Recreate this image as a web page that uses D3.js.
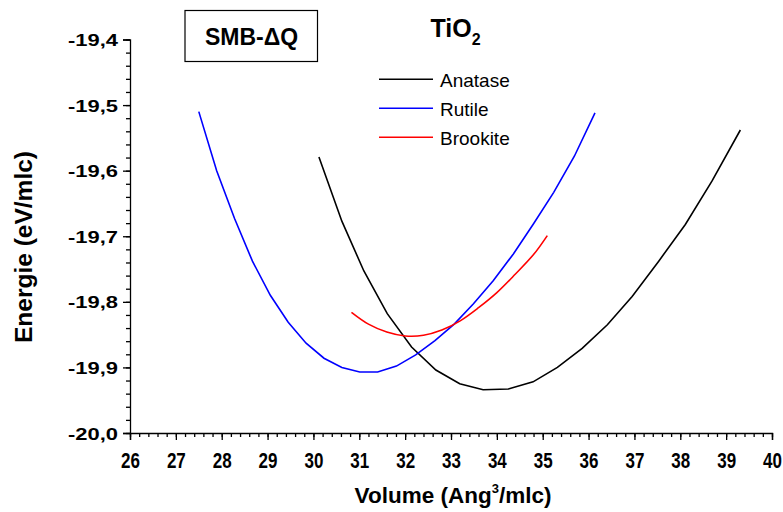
<!DOCTYPE html>
<html>
<head>
<meta charset="utf-8">
<script src="https://cdn.jsdelivr.net/npm/d3@7"></script>
<style>
  html, body { margin: 0; padding: 0; background: #fff; }
  svg { display: block; font-family: Arial, "Liberation Sans", sans-serif; }
</style>
</head>
<body>
<svg id="chart" width="783" height="512"></svg>
<script>
// Energy vs. volume curves for three TiO2 polymorphs (SMB-ΔQ model)
const anataseVolume = [30.12, 30.62, 31.10, 31.61, 32.14, 32.67, 33.19, 33.70, 34.25, 34.79, 35.32, 35.86, 36.41, 36.95, 37.53, 38.11, 38.69, 39.31];
const anataseEnergy = [-19.579, -19.677, -19.753, -19.818, -19.869, -19.904, -19.925, -19.934, -19.933, -19.922, -19.900, -19.871, -19.835, -19.792, -19.738, -19.682, -19.616, -19.538];

const rutileVolume = [27.50, 27.89, 28.28, 28.67, 29.06, 29.45, 29.84, 30.23, 30.62, 31.01, 31.40, 31.81, 32.23, 32.65, 33.07, 33.49, 33.92, 34.36, 34.80, 35.24, 35.69, 36.14];
const rutileEnergy = [-19.510, -19.600, -19.673, -19.738, -19.790, -19.831, -19.863, -19.886, -19.900, -19.907, -19.907, -19.898, -19.881, -19.859, -19.834, -19.803, -19.768, -19.727, -19.681, -19.633, -19.578, -19.512];

const brookiteVolume = [30.83, 31.2, 31.6, 32.0, 32.4, 32.8, 33.2, 33.6, 34.0, 34.4, 34.8, 35.1];
const brookiteEnergy = [-19.816, -19.834, -19.846, -19.852, -19.851, -19.843, -19.829, -19.809, -19.786, -19.758, -19.728, -19.699];

const seriesNames = ["Anatase", "Rutile", "Brookite"];
const seriesColors = ["#000000", "#0000ff", "#ff0000"];

const xTicks = d3.range(26, 40.001, 1);
const yTicks = [-20.0, -19.9, -19.8, -19.7, -19.6, -19.5, -19.4];

const svg = d3.select("#chart");

const x = d3.scaleLinear().domain([26, 40]).range([130, 772]);
const y = d3.scaleLinear().domain([-20.0, -19.4]).range([433, 39.5]);

const fmtY = v => d3.format(".1f")(v).replace(".", ",").replace("−", "-");

// Y axis: major ticks with labels (drawn wide), minor ticks every 0.02
svg.append("g").attr("transform", `translate(${x(26)},0)`)
  .call(d3.axisLeft(y).tickValues(yTicks).tickSize(7).tickPadding(0).tickFormat(fmtY))
  .call(g => g.selectAll(".tick text")
    .attr("x", 0).attr("dy", 0)
    .attr("transform", "translate(-12,6) scale(1.29,1)")
    .attr("font-size", 17));
svg.append("g").attr("transform", `translate(${x(26)},0)`)
  .call(d3.axisLeft(y).tickValues(d3.range(-20.0, -19.399, 0.02)).tickSize(4).tickFormat(""))
  .call(g => g.select(".domain").remove());

// X axis: major ticks with labels (drawn tall), minor ticks every 0.2
svg.append("g").attr("transform", `translate(0,${y(-20.0)})`)
  .call(d3.axisBottom(x).tickValues(xTicks).tickSize(7).tickPadding(0).tickFormat(d3.format("d")))
  .call(g => g.selectAll(".tick text")
    .attr("y", 0).attr("dy", 0)
    .attr("transform", "translate(0,35) scale(1,1.32)")
    .attr("font-size", 17));
svg.append("g").attr("transform", `translate(0,${y(-20.0)})`)
  .call(d3.axisBottom(x).tickValues(d3.range(26, 40.001, 0.2)).tickSize(4).tickFormat(""))
  .call(g => g.select(".domain").remove());

svg.selectAll(".domain, .tick line").attr("stroke", "#000").attr("stroke-width", 1.3);
svg.selectAll(".tick text")
  .attr("fill", "#000")
  .attr("font-family", "Arial, 'Liberation Sans', sans-serif")
  .attr("font-weight", "bold");

// Axis titles
svg.append("text")
  .attr("x", 453).attr("y", 503)
  .attr("text-anchor", "middle")
  .attr("font-weight", "bold").attr("font-size", 22.5)
  .html('Volume (Ang<tspan dy="-10" font-size="13">3</tspan><tspan dy="10">/mlc)</tspan>');

svg.append("text")
  .attr("transform", "translate(32,247) rotate(-90)")
  .attr("text-anchor", "middle")
  .attr("font-weight", "bold").attr("font-size", 24.5)
  .text("Energie (eV/mlc)");

// Curves
const line = d3.line().x(d => x(d[0])).y(d => y(d[1]));
const series = [
  { pts: d3.zip(anataseVolume, anataseEnergy), curve: d3.curveLinear },
  { pts: d3.zip(rutileVolume, rutileEnergy), curve: d3.curveLinear },
  { pts: d3.zip(brookiteVolume, brookiteEnergy), curve: d3.curveCatmullRom }
];
series.forEach((s, i) => {
  svg.append("path")
    .attr("d", line.curve(s.curve)(s.pts))
    .attr("fill", "none")
    .attr("stroke", seriesColors[i])
    .attr("stroke-width", 1.6);
});

// Model label box
svg.append("rect")
  .attr("x", 185).attr("y", 10.5).attr("width", 132.5).attr("height", 51)
  .attr("fill", "#fff").attr("stroke", "#000").attr("stroke-width", 1.2);
svg.append("text")
  .attr("x", 251.5).attr("y", 45)
  .attr("text-anchor", "middle")
  .attr("font-weight", "bold").attr("font-size", 23)
  .text("SMB-ΔQ");

// Compound title
svg.append("text")
  .attr("x", 430.5).attr("y", 36.7)
  .attr("font-weight", "bold").attr("font-size", 25)
  .html('TiO<tspan dy="8.3" font-size="16">2</tspan>');

// Legend
const legend = svg.append("g");
seriesNames.forEach((name, i) => {
  const ly = 79.3 + i * 29;
  legend.append("line")
    .attr("x1", 379).attr("x2", 433).attr("y1", ly).attr("y2", ly)
    .attr("stroke", seriesColors[i]).attr("stroke-width", 1.5);
  legend.append("text")
    .attr("x", 440).attr("y", ly + 7.4)
    .attr("font-size", 19)
    .text(name);
});
</script>
</body>
</html>
